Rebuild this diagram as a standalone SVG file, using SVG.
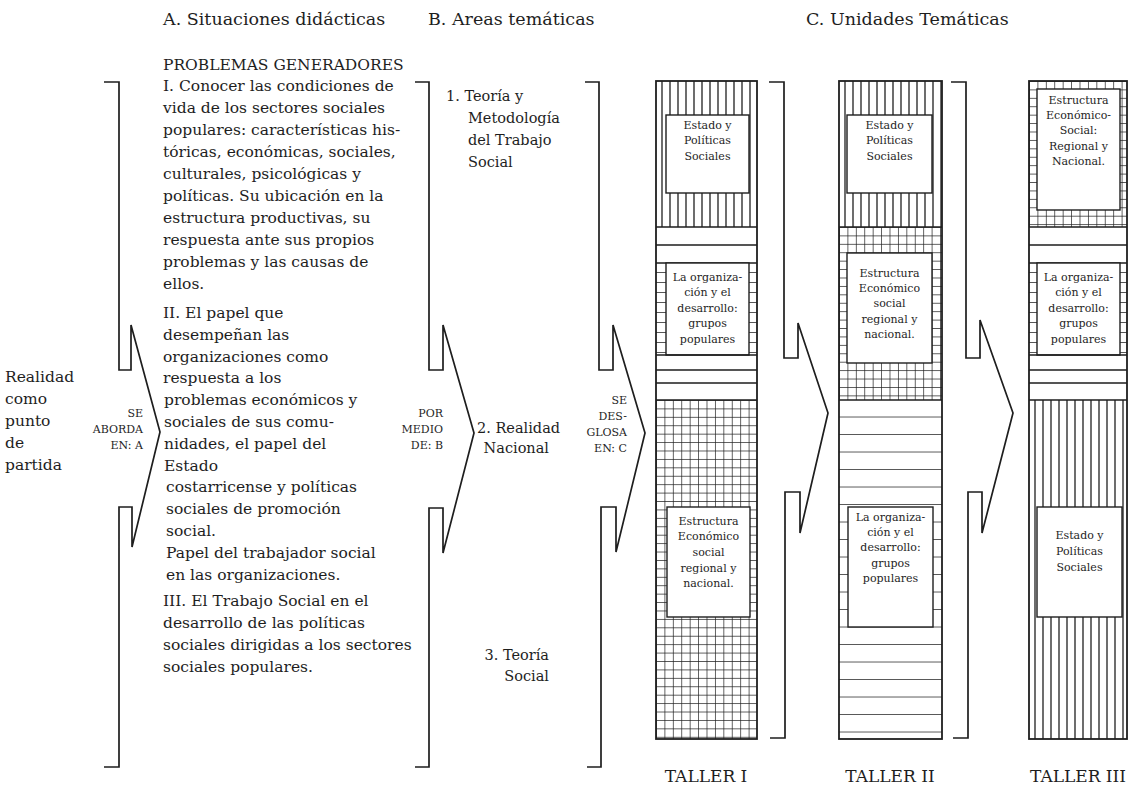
<svg xmlns="http://www.w3.org/2000/svg" width="1139" height="799" viewBox="0 0 1139 799">
<defs>
<style>
.t{font-family:"DejaVu Serif","Liberation Serif",serif;fill:#1e1e1e}
.h{font-size:17.5px}
.b{font-size:15.5px}
.bb{font-size:14.5px}
.s{font-size:11px;text-anchor:end}
.u{font-size:11px;text-anchor:middle}
.tl{font-size:17px;text-anchor:middle}
.br{fill:none;stroke:#1e1e1e;stroke-width:1.7;stroke-linejoin:miter}
.ln{stroke:#1e1e1e;stroke-width:1.4;fill:none}
.box{fill:#fff;stroke:#1e1e1e;stroke-width:1.4}
.out{fill:none;stroke:#1e1e1e;stroke-width:1.8}
</style>
<pattern id="vst" patternUnits="userSpaceOnUse" width="8" height="8"><line x1="6" y1="0" x2="6" y2="8" stroke="#1e1e1e" stroke-width="1.3"/></pattern>
<pattern id="grd" patternUnits="userSpaceOnUse" width="8.42" height="8.42"><path d="M0,0H8.42M0,0V8.42" stroke="#1e1e1e" stroke-width="1.4" fill="none"/></pattern>
<pattern id="lad" patternUnits="userSpaceOnUse" width="110" height="10"><line x1="0" y1="10" x2="110" y2="10" stroke="#1e1e1e" stroke-width="1.3"/></pattern>
<pattern id="hst" patternUnits="userSpaceOnUse" width="110" height="17.5"><line x1="0" y1="17.5" x2="110" y2="17.5" stroke="#1e1e1e" stroke-width="1.3"/></pattern>
</defs>
<rect width="1139" height="799" fill="#fff"/>

<g id="titles" class="t h">
<text x="163" y="25">A. Situaciones didácticas</text>
<text x="428" y="25">B. Areas temáticas</text>
<text x="806" y="25">C. Unidades Temáticas</text>
</g>

<g id="punto-partida" class="t b">
<text x="5" y="382">Realidad</text>
<text x="5" y="404">como</text>
<text x="5" y="426">punto</text>
<text x="5" y="448">de</text>
<text x="5" y="470">partida</text>
</g>

<g id="situaciones" class="t b">
<text x="163" y="70">PROBLEMAS GENERADORES</text>
<text x="163" y="91">I. Conocer las condiciones de</text>
<text x="163" y="113">vida de los sectores sociales</text>
<text x="163" y="135">populares: características his-</text>
<text x="163" y="157">tóricas, económicas, sociales,</text>
<text x="163" y="179">culturales, psicológicas y</text>
<text x="163" y="201">políticas. Su ubicación en la</text>
<text x="163" y="223">estructura productivas, su</text>
<text x="163" y="245">respuesta ante sus propios</text>
<text x="163" y="267">problemas y las causas de</text>
<text x="163" y="289">ellos.</text>
<text x="163" y="318">II. El papel que</text>
<text x="163" y="340">desempeñan las</text>
<text x="163" y="362">organizaciones como</text>
<text x="163" y="383">respuesta a los</text>
<text x="164" y="405">problemas económicos y</text>
<text x="164" y="427">sociales de sus comu-</text>
<text x="164" y="449">nidades, el papel del</text>
<text x="164" y="471">Estado</text>
<text x="166" y="492">costarricense y políticas</text>
<text x="166" y="514">sociales de promoción</text>
<text x="166" y="536">social.</text>
<text x="166" y="558">Papel del trabajador social</text>
<text x="166" y="580">en las organizaciones.</text>
<text x="163" y="606">III. El Trabajo Social en el</text>
<text x="163" y="628">desarrollo de las políticas</text>
<text x="163" y="650">sociales dirigidas a los sectores</text>
<text x="163" y="672">sociales populares.</text>
</g>

<g id="areas" class="t bb">
<text x="446" y="101">1. Teoría y</text>
<text x="468" y="123">Metodología</text>
<text x="468" y="145">del Trabajo</text>
<text x="468" y="167">Social</text>
<text x="477" y="433">2. Realidad</text>
<text x="549" y="453" text-anchor="end">Nacional</text>
<text x="549" y="660" text-anchor="end">3. Teoría</text>
<text x="549" y="681" text-anchor="end">Social</text>
</g>

<g id="connectors">
<path class="br" d="M104,82 H119 V370 H131 V325 L160,432 L132,547 V507 H119 V767 H104"/>
<path class="br" d="M415,82 H429 V370 H443 V325 L474,433 L443,553 V508 H429 V767 H415"/>
<path class="br" d="M585,82 H599 V370 H613 V325 L645,433 L616,552 V507 H601 V767 H587"/>
<path class="br" d="M769,82 H784 V358 H798 V323 L828,413 L800,533 V492 H785 V738 H770"/>
<path class="br" d="M951,82 H966 V358 H980 V320 L1013,413 L982,533 V492 H968 V738 H953"/>
<g class="t s">
<text x="143" y="417">SE</text>
<text x="143" y="433">ABORDA</text>
<text x="143" y="449">EN: A</text>
<text x="443" y="417">POR</text>
<text x="443" y="433">MEDIO</text>
<text x="443" y="449">DE: B</text>
<text x="627" y="404">SE</text>
<text x="627" y="420">DES-</text>
<text x="627" y="436">GLOSA</text>
<text x="627" y="452">EN: C</text>
</g>
</g>

<g id="taller-1" transform="translate(656,81)">
<rect x="0" y="0" width="101" height="146" fill="url(#vst)"/>
<rect class="box" x="10" y="34" width="83" height="78"/>
<g class="t u"><text x="51.5" y="48">Estado y</text><text x="51.5" y="63">Políticas</text><text x="51.5" y="79">Sociales</text></g>
<path class="ln" d="M0,146H101M0,164H101M0,182H101"/>
<g transform="translate(0,182)"><rect width="101" height="92" fill="url(#lad)"/></g>
<rect class="box" x="10" y="182" width="83" height="92"/>
<g class="t u"><text x="51.5" y="200">La organiza-</text><text x="51.5" y="215">ción y el</text><text x="51.5" y="231">desarrollo:</text><text x="51.5" y="246">grupos</text><text x="51.5" y="262">populares</text></g>
<path class="ln" d="M0,274H101M0,289H101M0,302H101M0,319H101"/>
<g transform="translate(0,319)"><rect width="101" height="339" fill="url(#grd)"/></g>
<rect class="box" x="11" y="426" width="83" height="110"/>
<g class="t u"><text x="52.5" y="444">Estructura</text><text x="52.5" y="459">Económico</text><text x="52.5" y="475">social</text><text x="52.5" y="491">regional y</text><text x="52.5" y="506">nacional.</text></g>
<rect class="out" x="0" y="0" width="101" height="658"/>
</g>

<g id="taller-2" transform="translate(839,81)">
<rect x="0" y="0" width="103" height="146" fill="url(#vst)"/>
<rect class="box" x="8" y="34" width="85" height="78"/>
<g class="t u"><text x="50.5" y="48">Estado y</text><text x="50.5" y="63">Políticas</text><text x="50.5" y="79">Sociales</text></g>
<path class="ln" d="M0,146H103"/>
<g transform="translate(0,146)"><rect width="103" height="173" fill="url(#grd)"/></g>
<rect class="box" x="8" y="172" width="85" height="110"/>
<g class="t u"><text x="50.5" y="196">Estructura</text><text x="50.5" y="211">Económico</text><text x="50.5" y="226">social</text><text x="50.5" y="242">regional y</text><text x="50.5" y="257">nacional.</text></g>
<path class="ln" d="M0,319H103"/>
<g transform="translate(0,319)"><rect width="103" height="339" fill="url(#hst)"/></g>
<rect class="box" x="9" y="426" width="85" height="120"/>
<g class="t u"><text x="51.5" y="440">La organiza-</text><text x="51.5" y="455">ción y el</text><text x="51.5" y="470">desarrollo:</text><text x="51.5" y="486">grupos</text><text x="51.5" y="501">populares</text></g>
<rect class="out" x="0" y="0" width="103" height="658"/>
</g>

<g id="taller-3" transform="translate(1029,81)">
<rect x="0" y="0" width="98" height="146" fill="url(#grd)"/>
<rect class="box" x="8" y="8" width="83" height="121"/>
<g class="t u"><text x="49.5" y="23">Estructura</text><text x="49.5" y="38">Económico-</text><text x="49.5" y="53">Social:</text><text x="49.5" y="69">Regional y</text><text x="49.5" y="84">Nacional.</text></g>
<path class="ln" d="M0,146H98M0,164H98M0,182H98"/>
<g transform="translate(0,182)"><rect width="98" height="92" fill="url(#lad)"/></g>
<rect class="box" x="8" y="182" width="83" height="92"/>
<g class="t u"><text x="49.5" y="200">La organiza-</text><text x="49.5" y="215">ción y el</text><text x="49.5" y="231">desarrollo:</text><text x="49.5" y="246">grupos</text><text x="49.5" y="262">populares</text></g>
<path class="ln" d="M0,274H98M0,289H98M0,302H98M0,319H98"/>
<g transform="translate(0,319)"><rect width="98" height="339" fill="url(#vst)"/></g>
<rect class="box" x="8" y="426" width="85" height="110"/>
<g class="t u"><text x="50.5" y="458">Estado y</text><text x="50.5" y="474">Políticas</text><text x="50.5" y="490">Sociales</text></g>
<rect class="out" x="0" y="0" width="98" height="658"/>
</g>

<g id="taller-labels" class="t tl">
<text x="706" y="782">TALLER I</text>
<text x="890" y="782">TALLER II</text>
<text x="1078" y="782">TALLER III</text>
</g>
</svg>
